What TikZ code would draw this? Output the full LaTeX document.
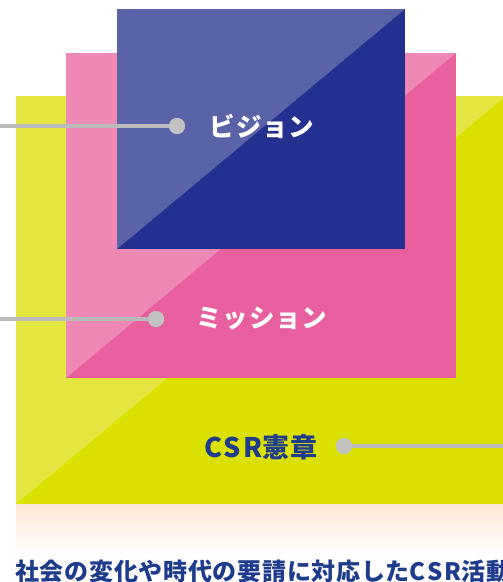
\documentclass[tikz,border=0pt]{standalone}
\usepackage{fontspec}
\usepackage{tikz}
\usetikzlibrary{positioning,calc}
\newfontfamily\jpfont{Noto Sans CJK JP}[LetterSpace=3]
\newfontfamily\jpspaced{Noto Sans CJK JP}[LetterSpace=9]
\definecolor{yellowL}{HTML}{E3E540}
\definecolor{yellowD}{HTML}{DCE000}
\definecolor{pinkL}{HTML}{EE88B4}
\definecolor{pinkD}{HTML}{E85F9D}
\definecolor{blueL}{HTML}{5B63A8}
\definecolor{blueD}{HTML}{243090}
\definecolor{linegray}{HTML}{BBBBBB}
\definecolor{dotgray}{HTML}{C2C2C2}
\definecolor{navy}{HTML}{1E3C8C}
\definecolor{cream}{HTML}{FFE9D3}
\tikzset{leader/.style={draw=linegray,line width=4pt},
  dot/.style={circle,fill=dotgray,inner sep=0pt,minimum size=16pt},
  levellabel/.style={font=\jpfont\bfseries\fontsize{25.5}{26}\selectfont,inner sep=0pt}}

\begin{document}
\begin{tikzpicture}[x=1pt,y=-1pt]
\useasboundingbox (0,0) rectangle (503,582);
% layers, each with its light half
\fill[yellowD] (16,96) rectangle (506,504);
\fill[yellowL] (16,96) -- (506,96) -- (16,504) -- cycle;
\fill[pinkD] (66,53) rectangle (456,378);
\fill[pinkL] (66,53) -- (456,53) -- (66,378) -- cycle;
\fill[blueD] (117,9) rectangle (405,249);
\fill[blueL] (117,9) -- (405,9) -- (117,249) -- cycle;
% band under the charter
\shade[top color=cream,bottom color=white] (16,504) rectangle (503,556);
% labels and leaders
\node[dot] (visiondot) at (177,126) {};
\node[levellabel,white] (vision) at (262,126) {ビジョン};
\node[dot] (missiondot) at (156,319) {};
\node[levellabel,white] (mission) at (262,319) {ミッション};
\node[dot] (csrdot) at (344,446) {};
\node[levellabel,navy,font=\jpfont\bfseries\fontsize{27}{27}\selectfont] (csr) at (261,447) {{\jpspaced CSR}憲章};
\coordinate (visionend) at (0,126);
\coordinate (missionend) at (0,319);
\coordinate (csrend) at (503,446);
\draw[leader] (visionend) -- (visiondot);
\draw[leader] (missionend) -- (missiondot);
\draw[leader] (csrdot) -- (csrend);
\node[dot] at (visiondot) {};
\node[dot] at (missiondot) {};
\node[dot] at (csrdot) {};
\node[anchor=west,navy,inner sep=0pt,font=\jpfont\bfseries\fontsize{24}{24}\selectfont] (purpose) at (15,571) {社会の変化や時代の要請に対応した{\jpspaced CSR}活動};
\end{tikzpicture}
\end{document}
